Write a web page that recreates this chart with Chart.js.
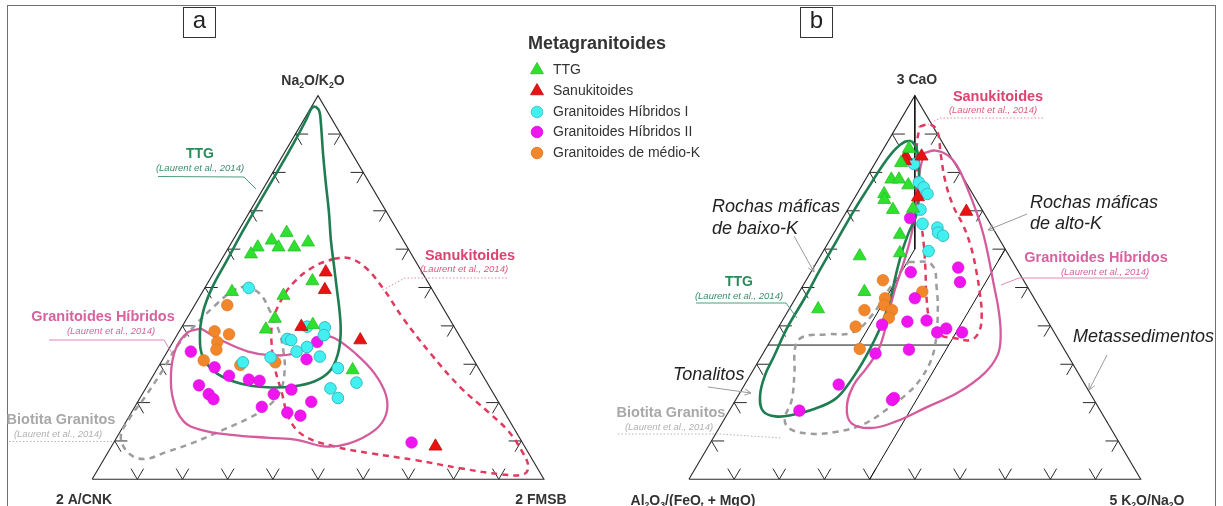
<!DOCTYPE html>
<html>
<head>
<meta charset="utf-8">
<script src="https://cdn.jsdelivr.net/npm/chart.js@4.4.1/dist/chart.umd.min.js"></script>
<style>
  html, body { margin: 0; padding: 0; background: #fff; overflow: hidden; }
  canvas { display: block; }
</style>
</head>
<body>
<canvas id="c" width="1223" height="506"></canvas>
<script>
// Every composition is [top %, right %]; the left apex takes the remainder.
// Diagram a: top = Na2O/K2O, right = 2 FMSB, left = 2 A/CNK
const ttgA  = [[64.3,10.9],[62.3,8.6],[60.5,6.4],[58.7,5.8],[60.5,11.0],[60.5,14.5],[61.8,16.9],[48.9,6.5],[47.9,18.4],[51.7,22.9],[41.9,19.5],[39.1,18.9],[40.3,28.7],[28.5,43.4]];
const sanA  = [[54.0,24.7],[49.4,26.8],[39.8,26.4],[36.3,41.2],[8.6,71.7]];
const hib1A = [[49.9,9.7],[39.8,27.7],[39.6,31.7],[37.6,32.5],[36.6,24.9],[36.3,25.9],[34.5,30.3],[33.3,28.6],[30.5,18.1],[31.8,23.6],[32.0,34.4],[29.0,39.9],[25.2,45.9],[23.7,40.9],[21.2,43.8]];
const hib2A = [[35.8,31.9],[33.3,5.2],[29.2,12.5],[31.3,31.8],[27.0,16.8],[26.0,21.7],[25.7,24.2],[24.5,11.4],[22.2,14.7],[20.9,16.4],[23.4,32.4],[22.2,29.1],[20.2,38.4],[18.9,28.1],[17.4,34.5],[16.6,37.8],[9.6,65.9]];
const medKA = [[45.4,7.2],[38.6,7.8],[37.8,11.4],[35.8,9.8],[33.8,10.6],[31.0,9.2],[29.8,17.9],[30.5,25.3]];

// Diagram b: top = 3 CaO, right = 5 K2O/Na2O, left = Al2O3/(FeOt + MgO)
const ttgB  = [[86.2,5.6],[82.5,5.7],[78.2,5.7],[78.2,7.4],[76.7,10.2],[74.4,6.0],[72.9,6.8],[70.3,10.0],[70.6,14.3],[63.8,14.8],[58.2,8.7],[59.0,17.2],[48.9,14.4],[44.4,6.4]];
const sanB  = [[84.2,5.9],[83.0,6.3],[84.2,9.4],[73.6,13.9],[69.8,26.5]];
const hib1B = [[82.2,8.7],[77.4,12.2],[76.1,13.9],[74.4,15.6],[70.3,16.1],[66.6,18.4],[65.6,22.2],[64.3,23.0],[63.5,24.5],[59.5,23.3]];
const hib2B = [[68.1,14.9],[54.0,22.1],[55.2,32.0],[51.4,34.3],[47.2,26.4],[40.3,22.6],[41.1,27.8],[41.4,31.9],[38.3,35.8],[39.3,37.3],[38.3,41.3],[33.8,31.8],[32.8,24.9],[24.7,20.8],[21.2,34.8],[20.7,34.6],[17.9,15.5]];
const medKB = [[51.9,17.0],[48.9,27.2],[47.2,19.8],[45.4,20.5],[44.1,22.9],[44.1,16.8],[42.1,23.2],[39.8,17.0],[34.0,20.8]];

// Reference fields (Laurent et al., 2014), closed outlines in the same [top, right] form
const ttgFieldA = [[97.3,0.7],[96.1,2.2],[92.5,4.4],[85.0,8.6],[77.4,13.0],[69.8,17.5],[62.3,21.7],[56.0,25.5],[49.7,29.3],[43.4,33.1],[37.8,36.1],[32.5,38.1],[28.2,38.5],[25.5,36.4],[24.2,32.2],[24.0,26.7],[25.0,20.3],[27.5,14.0],[31.5,8.9],[37.1,5.3],[43.4,2.8],[49.7,1.6],[57.2,1.3],[64.8,1.0],[72.4,0.9],[79.9,0.9],[87.5,0.8],[93.8,0.5],[96.6,0.2]];
const hibFieldA = [[39.3,4.4],[36.1,10.8],[33.3,17.9],[32.3,23.6],[32.8,28.4],[35.0,30.9],[37.1,32.8],[36.8,35.3],[32.8,41.9],[27.7,48.6],[21.9,54.1],[16.9,56.6],[12.9,56.2],[9.3,52.1],[8.6,47.0],[10.3,40.2],[10.8,33.9],[11.6,25.0],[12.9,17.6],[15.1,12.7],[20.7,7.6],[27.5,3.7],[34.0,1.5],[38.3,2.0]];
const sanFieldA = [[57.5,24.7],[57.7,27.9],[55.2,32.9],[49.7,39.6],[42.1,47.7],[32.8,58.5],[24.0,69.5],[17.4,79.1],[12.6,85.8],[7.6,91.2],[3.3,94.9],[1.3,94.8],[1.3,90.0],[2.8,80.5],[5.0,69.1],[6.8,58.2],[8.6,49.2],[11.3,41.3],[15.6,35.9],[22.7,30.6],[29.5,25.6],[35.8,21.8],[40.8,19.5],[46.4,18.5],[51.4,19.0],[55.5,21.4]];
const bioFieldA = [[50.4,8.6],[48.4,12.9],[43.9,17.4],[38.8,21.9],[33.3,25.7],[28.2,28.5],[23.2,30.1],[19.4,29.6],[16.1,26.9],[12.6,22.1],[9.3,17.2],[7.1,12.8],[5.3,8.9],[6.8,4.7],[11.1,0.8],[15.6,0.3],[21.9,1.0],[28.7,1.4],[35.0,1.5],[40.8,2.9],[45.9,4.8],[49.2,6.6]];

const ttgFieldB = [[88.2,5.2],[86.2,7.3],[81.2,10.3],[74.9,13.4],[69.3,15.8],[64.3,16.5],[59.3,17.5],[53.5,19.1],[47.2,21.0],[40.8,22.4],[35.3,23.0],[30.0,23.2],[25.0,22.9],[20.9,21.9],[18.4,18.7],[16.9,14.9],[16.4,11.0],[17.9,7.4],[21.9,4.8],[27.0,3.3],[32.0,2.8],[39.6,2.0],[47.2,2.0],[54.7,1.7],[62.3,1.6],[69.8,1.5],[76.1,1.7],[82.4,2.0],[86.2,2.7],[88.0,3.8]];
const hibFieldB = [[85.0,9.5],[85.7,11.7],[84.5,15.0],[81.7,18.5],[76.1,23.5],[69.3,29.1],[63.5,33.5],[57.7,37.5],[50.9,42.0],[44.1,46.5],[37.6,50.2],[32.5,52.1],[27.7,51.6],[22.7,48.3],[18.7,43.1],[15.1,38.3],[13.4,33.9],[14.6,28.7],[18.9,25.5],[24.5,24.2],[29.0,24.8],[33.3,25.1],[38.3,24.1],[43.9,22.4],[49.7,20.8],[56.0,19.4],[62.3,17.8],[68.6,15.7],[74.9,13.2],[80.4,10.9]];
const sanFieldB = [[92.0,5.1],[92.5,7.2],[90.5,9.8],[85.0,13.2],[77.4,18.1],[71.1,23.0],[66.1,27.7],[60.5,32.2],[54.7,36.2],[48.4,40.2],[42.6,43.5],[38.3,45.0],[36.3,44.1],[36.8,40.5],[37.6,36.9],[40.8,33.1],[47.2,29.0],[54.7,25.0],[61.0,21.5],[67.3,17.7],[73.6,13.8],[81.2,9.8],[87.5,6.7]];
const bioFieldB = [[56.7,20.3],[56.0,25.7],[49.7,30.0],[42.1,34.0],[35.8,36.7],[30.8,38.1],[26.2,38.2],[22.7,37.3],[18.7,35.0],[14.4,31.5],[12.4,26.6],[11.9,20.9],[13.1,15.9],[15.6,13.4],[20.7,12.4],[27.7,9.5],[34.5,6.3],[37.1,6.6],[37.8,11.7],[38.3,17.1],[42.6,19.1],[49.2,19.5],[54.2,19.8]];

// Field divisions of diagram b (mafic low-K / high-K, tonalites, metasediments)
const divisionsB = [
  [[100,0],[60,20]],
  [[60,20],[35,20]],
  [[35,0],[35,40]],
  [[60,40],[0,40]]
];

const seriesNames = ['TTG', 'Sanukitoides', 'Granitoides Híbridos I', 'Granitoides Híbridos II', 'Granitoides de médio-K'];
const tickFractions = [10, 20, 30, 40, 50, 60, 70, 80, 90];

// ---- layout of the two triangles (canvas units) ----
const SIDE = 458, BASE_Y = 487, ORIGIN_A = 85, ORIGIN_B = 690;
const H = Math.sqrt(3) / 2;
const FONT = '"Liberation Sans", Arial, Helvetica, sans-serif';

function toXY(origin, c) {
  const t = c[0] / 100, r = c[1] / 100;
  return { x: origin + SIDE * (r + t / 2), y: BASE_Y - SIDE * H * t };
}
const mapAll = (origin, arr) => arr.map(c => toXY(origin, c));
const closed = (origin, arr) => mapAll(origin, arr.concat([arr[0]]));

const STYLE = {
  ttg:  { pointStyle: 'triangle', pointRadius: 7.5, pointBackgroundColor: '#2fe02f', pointBorderColor: '#25c025', pointBorderWidth: 0.8 },
  san:  { pointStyle: 'triangle', pointRadius: 7.5, pointBackgroundColor: '#e81212', pointBorderColor: '#c00c0c', pointBorderWidth: 0.8 },
  hib1: { pointStyle: 'circle', pointRadius: 5.8, pointBackgroundColor: '#43f0f0', pointBorderColor: '#33bcc4', pointBorderWidth: 1 },
  hib2: { pointStyle: 'circle', pointRadius: 5.8, pointBackgroundColor: '#f014f0', pointBorderColor: '#d80cd8', pointBorderWidth: 0.6 },
  medK: { pointStyle: 'circle', pointRadius: 5.8, pointBackgroundColor: '#f2862a', pointBorderColor: '#da7420', pointBorderWidth: 0.6 }
};

function points(label, data, origin, style) {
  return Object.assign({ label, data: mapAll(origin, data), showLine: false, order: 0 }, style);
}
function outline(data, origin, color, width, dash) {
  return {
    label: 'field', data: closed(origin, data), showLine: true, pointRadius: 0, pointHoverRadius: 0,
    borderColor: color, borderWidth: width, borderDash: dash || [], tension: 0.4, fill: false, order: 2
  };
}

const GREEN = '#1f7d52', PINK = '#d45c9c', RED = '#e03a5e', GREY = '#9d9d9d';

const datasets = [
  points(seriesNames[0], ttgA, ORIGIN_A, STYLE.ttg),
  points(seriesNames[1], sanA, ORIGIN_A, STYLE.san),
  points(seriesNames[2], hib1A, ORIGIN_A, STYLE.hib1),
  points(seriesNames[3], hib2A, ORIGIN_A, STYLE.hib2),
  points(seriesNames[4], medKA, ORIGIN_A, STYLE.medK),
  points(seriesNames[0], ttgB, ORIGIN_B, STYLE.ttg),
  points(seriesNames[1], sanB, ORIGIN_B, STYLE.san),
  points(seriesNames[2], hib1B, ORIGIN_B, STYLE.hib1),
  points(seriesNames[3], hib2B, ORIGIN_B, STYLE.hib2),
  points(seriesNames[4], medKB, ORIGIN_B, STYLE.medK),
  outline(ttgFieldA, ORIGIN_A, GREEN, 2.6),
  outline(hibFieldA, ORIGIN_A, PINK, 2.3),
  outline(sanFieldA, ORIGIN_A, RED, 2.5, [6, 5]),
  outline(bioFieldA, ORIGIN_A, GREY, 2.5, [6, 5]),
  outline(ttgFieldB, ORIGIN_B, GREEN, 2.6),
  outline(hibFieldB, ORIGIN_B, PINK, 2.3),
  outline(sanFieldB, ORIGIN_B, RED, 2.5, [6, 5]),
  outline(bioFieldB, ORIGIN_B, GREY, 2.5, [6, 5])
];
divisionsB.forEach(seg => datasets.push({
  label: 'division', data: mapAll(ORIGIN_B, seg), showLine: true, pointRadius: 0, pointHoverRadius: 0,
  borderColor: '#111', borderWidth: 1, fill: false, order: 3
}));

// ---- drawing helpers ----
function richText(ctx, parts, x, y, size, color) {
  // parts: [text, isSubscript]; x is the centre, y the baseline
  ctx.save();
  ctx.fillStyle = color;
  ctx.textBaseline = 'alphabetic';
  const fonts = parts.map(p => 'bold ' + (p[1] ? size * 0.62 : size) + 'px ' + FONT);
  let w = 0;
  parts.forEach((p, i) => { ctx.font = fonts[i]; w += ctx.measureText(p[0]).width; });
  let cx = x - w / 2;
  parts.forEach((p, i) => {
    ctx.font = fonts[i];
    ctx.fillText(p[0], cx, p[1] ? y + size * 0.2 : y);
    cx += ctx.measureText(p[0]).width;
  });
  ctx.restore();
}
function text(ctx, s, x, y, font, color, align) {
  ctx.save();
  ctx.font = font + ' ' + FONT;
  ctx.fillStyle = color;
  ctx.textAlign = align || 'center';
  ctx.textBaseline = 'middle';
  ctx.fillText(s, x, y);
  ctx.restore();
}
function polyline(ctx, pts, color, width, dash) {
  ctx.save();
  ctx.strokeStyle = color;
  ctx.lineWidth = width;
  ctx.setLineDash(dash || []);
  ctx.beginPath();
  pts.forEach((p, i) => i ? ctx.lineTo(p[0], p[1]) : ctx.moveTo(p[0], p[1]));
  ctx.stroke();
  ctx.restore();
}
function arrow(ctx, x1, y1, x2, y2, color) {
  polyline(ctx, [[x1, y1], [x2, y2]], color, 1);
  const a = Math.atan2(y2 - y1, x2 - x1), L = 7;
  polyline(ctx, [[x2 - L * Math.cos(a - 0.45), y2 - L * Math.sin(a - 0.45)], [x2, y2],
                 [x2 - L * Math.cos(a + 0.45), y2 - L * Math.sin(a + 0.45)]], color, 1);
}
function marker(ctx, style, x, y, fill, stroke) {
  ctx.save();
  ctx.fillStyle = fill; ctx.strokeStyle = stroke; ctx.lineWidth = 0.8;
  ctx.beginPath();
  if (style === 'triangle') {
    const r = 7.5;
    ctx.moveTo(x, y - r);
    ctx.lineTo(x + r * H, y + r / 2);
    ctx.lineTo(x - r * H, y + r / 2);
    ctx.closePath();
  } else {
    ctx.arc(x, y, 5.8, 0, Math.PI * 2);
  }
  ctx.fill(); ctx.stroke();
  ctx.restore();
}

const ternaryFrame = {
  id: 'ternaryFrame',
  beforeDatasetsDraw(chart) {
    const { ctx, scales: { x, y } } = chart;
    const P = (origin, c) => { const q = toXY(origin, c); return [x.getPixelForValue(q.x), y.getPixelForValue(q.y)]; };
    ctx.save();
    // outer border of the figure
    ctx.strokeStyle = '#707070'; ctx.lineWidth = 1;
    ctx.strokeRect(7.5, 5.5, 1208, 520);
    [ORIGIN_A, ORIGIN_B].forEach(o => {
      polyline(ctx, [P(o, [0, 0]), P(o, [100, 0]), P(o, [0, 100]), P(o, [0, 0])], '#2a2a2a', 1.1);
      const L = 2.8;
      tickFractions.forEach(v => {
        // left edge: stubs parallel to the base and to the right edge
        polyline(ctx, [P(o, [v, L]), P(o, [v, 0]), P(o, [v - L, L])], '#2a2a2a', 1);
        // right edge: stubs parallel to the base and to the left edge
        polyline(ctx, [P(o, [v, 100 - v - L]), P(o, [v, 100 - v]), P(o, [v - L, 100 - v])], '#2a2a2a', 1);
        // base: V-shaped stubs
        polyline(ctx, [P(o, [L, v - L]), P(o, [0, v]), P(o, [L, v])], '#2a2a2a', 1);
      });
    });
    ctx.restore();
  },
  afterDatasetsDraw(chart) {
    const ctx = chart.ctx;
    // panel letters
    ctx.save();
    ctx.strokeStyle = '#333'; ctx.lineWidth = 1;
    ctx.strokeRect(183.5, 7.5, 32, 30);
    ctx.strokeRect(800.5, 7.5, 32, 30);
    ctx.restore();
    text(ctx, 'a', 199.5, 21, '24px', '#222');
    text(ctx, 'b', 816.5, 21, '24px', '#222');

    // apex labels
    richText(ctx, [['Na', 0], ['2', 1], ['O/K', 0], ['2', 1], ['O', 0]], 313, 85, 14, '#333');
    text(ctx, '2 A/CNK', 84, 500, 'bold 14px', '#333');
    text(ctx, '2 FMSB', 541, 500, 'bold 14px', '#333');
    text(ctx, '3 CaO', 917, 80, 'bold 14px', '#333');
    richText(ctx, [['Al', 0], ['2', 1], ['O', 0], ['3', 1], ['/(FeO', 0], ['t', 1], [' + MgO)', 0]], 693, 505, 14, '#333');
    richText(ctx, [['5 K', 0], ['2', 1], ['O/Na', 0], ['2', 1], ['O', 0]], 1147, 505, 14, '#333');

    const ref = '(Laurent et al., 2014)';
    // diagram a annotations
    text(ctx, 'TTG', 200, 154, 'bold 14px', '#2a8a5c');
    text(ctx, ref, 200, 168, 'italic 9.5px', '#3b8d6b');
    polyline(ctx, [[158, 176.5], [244, 177], [256, 189]], '#4f9c7c', 1);
    text(ctx, 'Sanukitoides', 470, 256, 'bold 14.5px', '#dc4470');
    text(ctx, ref, 464, 269, 'italic 9.5px', '#de5a7c');
    polyline(ctx, [[507, 278], [405, 278], [381, 291]], '#e98aa2', 1, [1.5, 2]);
    text(ctx, 'Granitoides Híbridos', 103, 317, 'bold 14.5px', '#d8619f');
    text(ctx, ref, 111, 331, 'italic 9.5px', '#d8619f');
    polyline(ctx, [[49, 340], [164, 340], [173, 355]], '#e08ab8', 1);
    text(ctx, 'Biotita Granitos', 61, 420, 'bold 14.5px', '#a8a8a8');
    text(ctx, ref, 58, 434, 'italic 9.5px', '#b0b0b0');
    polyline(ctx, [[9, 441.5], [112, 441.5]], '#b5b5b5', 1, [1.5, 2]);

    // diagram b annotations
    text(ctx, 'Sanukitoides', 998, 97, 'bold 14.5px', '#dc4470');
    text(ctx, ref, 993, 110, 'italic 9.5px', '#de5a7c');
    polyline(ctx, [[1043, 118], [940, 118], [927, 125]], '#e98aa2', 1, [1.5, 2]);
    text(ctx, 'Rochas máficas', 712, 207, 'italic 18px', '#222', 'left');
    text(ctx, 'de baixo-K', 712, 229, 'italic 18px', '#222', 'left');
    arrow(ctx, 794, 236, 814, 272, '#9a9a9a');
    text(ctx, 'Rochas máficas', 1030, 203, 'italic 18px', '#222', 'left');
    text(ctx, 'de alto-K', 1030, 224, 'italic 18px', '#222', 'left');
    arrow(ctx, 1027, 214, 988, 230, '#9a9a9a');
    text(ctx, 'Granitoides Híbridos', 1096, 258, 'bold 14.5px', '#d8619f');
    text(ctx, ref, 1105, 272, 'italic 9.5px', '#d8619f');
    polyline(ctx, [[1148, 278], [1019, 278], [1001, 285]], '#e08ab8', 1);
    text(ctx, 'TTG', 739, 282, 'bold 14px', '#2a8a5c');
    text(ctx, ref, 739, 296, 'italic 9.5px', '#3b8d6b');
    polyline(ctx, [[696, 303], [786, 303], [797, 318]], '#4f9c7c', 1);
    text(ctx, 'Metassedimentos', 1073, 337, 'italic 18px', '#222', 'left');
    arrow(ctx, 1107, 355, 1089, 390, '#9a9a9a');
    text(ctx, 'Tonalitos', 673, 375, 'italic 18px', '#222', 'left');
    arrow(ctx, 708, 387, 751, 393, '#9a9a9a');
    text(ctx, 'Biotita Granitos', 671, 413, 'bold 14.5px', '#a8a8a8');
    text(ctx, ref, 669, 427, 'italic 9.5px', '#b0b0b0');
    polyline(ctx, [[618, 434], [720, 434], [782, 438]], '#b5b5b5', 1, [1.5, 2]);

    // legend
    text(ctx, 'Metagranitoides', 528, 44, 'bold 18px', '#333', 'left');
    const styles = [STYLE.ttg, STYLE.san, STYLE.hib1, STYLE.hib2, STYLE.medK];
    const rows = [70, 91, 112, 132, 153];
    seriesNames.forEach((name, i) => {
      marker(ctx, styles[i].pointStyle, 537, rows[i], styles[i].pointBackgroundColor, styles[i].pointBorderColor);
      text(ctx, name, 553, rows[i], '14px', '#333', 'left');
    });
  }
};

new Chart(document.getElementById('c'), {
  type: 'scatter',
  data: { datasets },
  options: {
    responsive: false,
    animation: false,
    devicePixelRatio: 1,
    layout: { padding: 0 },
    events: [],
    plugins: { legend: { display: false }, tooltip: { enabled: false } },
    scales: {
      x: { type: 'linear', min: 0, max: 1223, display: false },
      y: { type: 'linear', min: 0, max: 506, reverse: true, display: false }
    }
  },
  plugins: [ternaryFrame]
});
</script>
</body>
</html>
